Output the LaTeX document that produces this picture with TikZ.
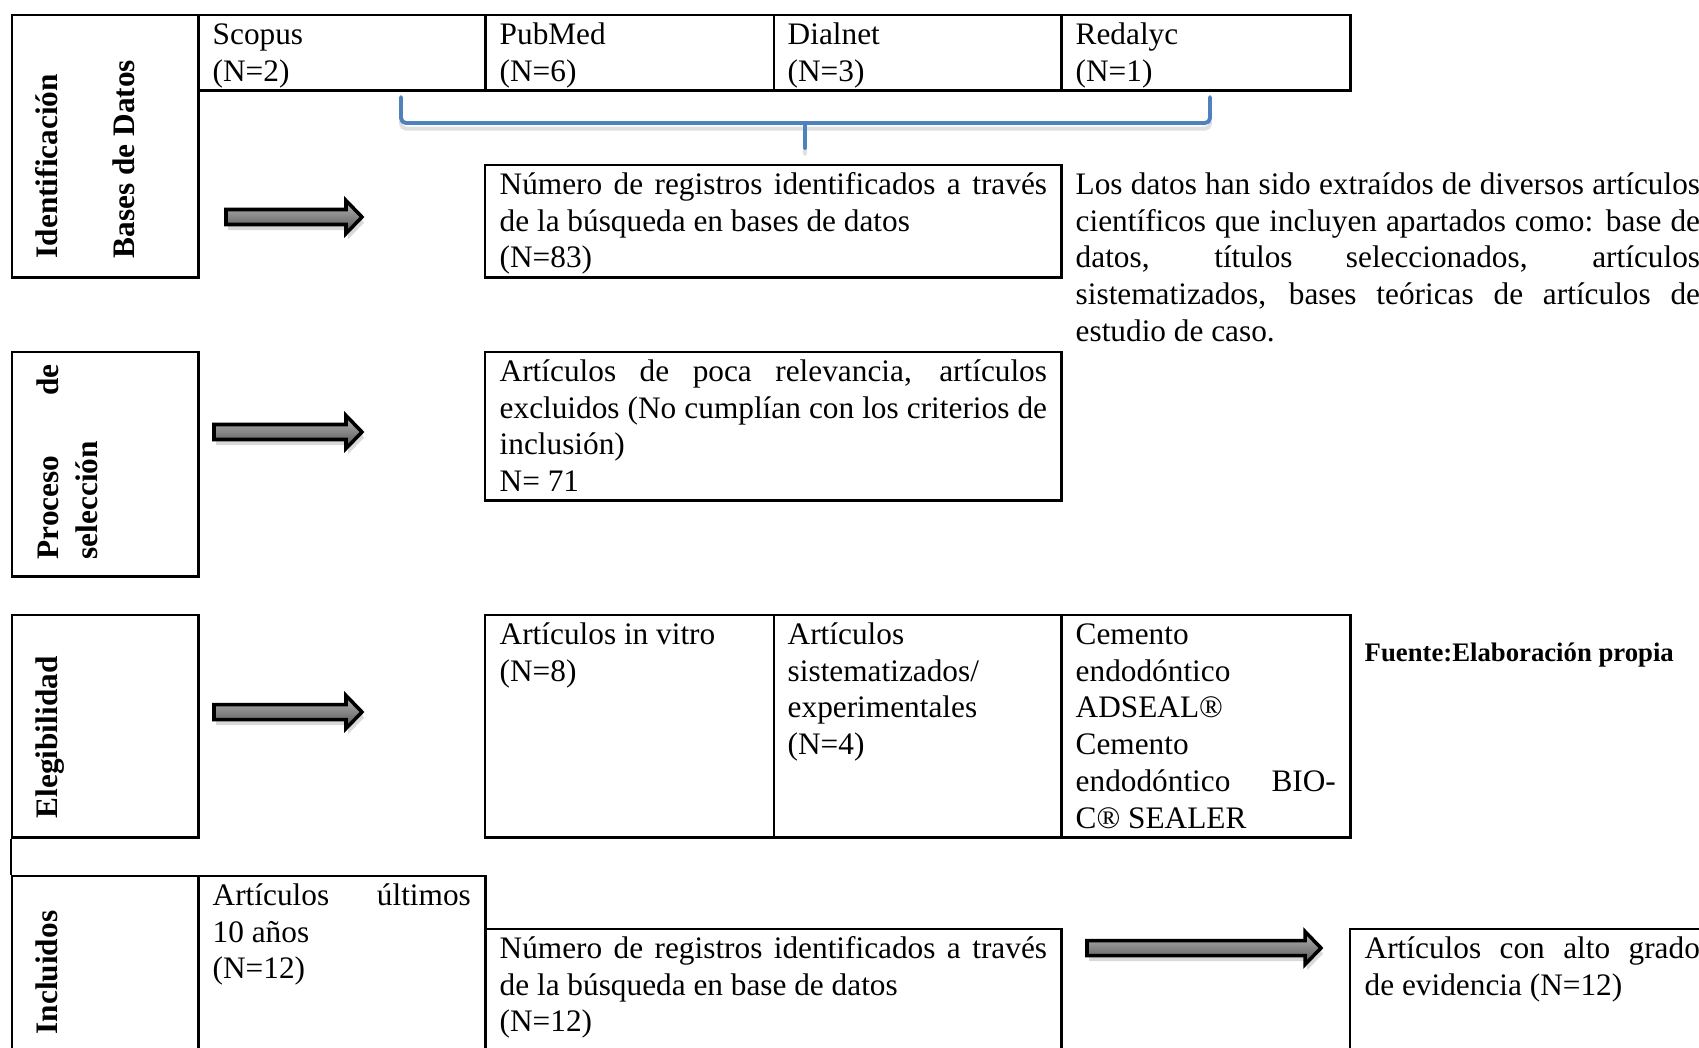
\documentclass[tikz,border=0pt]{standalone}
\usepackage{fontspec}
\setmainfont{Liberation Serif}
\usetikzlibrary{shadows}
\definecolor{bracecol}{RGB}{79,129,189}
% block arrow: #1 tail x, #2 tip x, #3 centre y, #4 name
\newcommand\BlockArrow[4]{%
  \coordinate (#4-tail) at (#1,#3);
  \coordinate (#4-tip) at (#2,#3);
  \path[blockarrow] (#1,{#3-7.5}) -- ({#2-16},{#3-7.5}) -- ({#2-16},{#3-16.5}) -- (#4-tip)
    -- ({#2-16},{#3+16.5}) -- ({#2-16},{#3+7.5}) -- (#1,{#3+7.5}) -- cycle;}
\begin{document}
\begin{tikzpicture}[x=0.01cm,y=-0.01cm,
  cell/.style={draw, line width=0.7pt, inner sep=0pt, anchor=north west},
  txt/.style={anchor=north west, inner sep=0pt, font=\fontsize{8.9}{10.45}\selectfont, align=justify, execute at begin node=\strut},
  vlab/.style={rotate=90, anchor=north west, inner sep=0pt, font=\fontsize{8.9}{10.45}\selectfont\bfseries, execute at begin node=\strut},
  blockarrow/.style={draw=black, line width=1pt, line join=miter, top color=black!28, bottom color=black!68,
    drop shadow={opacity=0.3, shadow xshift=0.6pt, shadow yshift=-1.6pt}},
  brace/.style={draw=bracecol, line width=1.1pt, rounded corners=0.05cm, line cap=round}
]
\useasboundingbox (0,0) rectangle (1699,1048);
\clip (0,0) rectangle (1699,1048);

% ---- Row 1: identification ----
\node[cell, minimum width=1.86cm, minimum height=2.62cm] (ident) at (11,14) {};
\node[cell, minimum width=2.87cm, minimum height=0.75cm] (scopus) at (197,14) {};
\node[cell, minimum width=2.885cm, minimum height=0.75cm] (pubmed) at (484,14) {};
\node[cell, minimum width=2.875cm, minimum height=0.75cm] (dialnet) at (772.5,14) {};
\node[cell, minimum width=2.89cm, minimum height=0.75cm] (redalyc) at (1060,14) {};
\node[cell, minimum width=5.76cm, minimum height=1.12cm] (numero) at (484,164) {};

\node[vlab] (identL) at (31.3,259) {Identificación};
\node[vlab] (basesL) at (108,259) {Bases de Datos};

\node[txt, text width=2.6cm] (scopusT) at (212,18) {Scopus\\(N=2)};
\node[txt, text width=2.6cm] (pubmedT) at (499,18) {PubMed\\(N=6)};
\node[txt, text width=2.6cm] (dialnetT) at (787,18) {Dialnet\\(N=3)};
\node[txt, text width=2.6cm] (redalycT) at (1075,18) {Redalyc\\(N=1)};
\node[txt, text width=5.47cm] (numeroT) at (499,168) {Número de registros identificados a través\linebreak de la búsqueda en bases de datos\\(N=83)};
\node[txt, text width=6.24cm] (info) at (1075,168) {Los datos han sido extraídos de diversos artículos\linebreak científicos que incluyen apartados como: base de\linebreak datos, títulos seleccionados, artículos\linebreak sistematizados, bases teóricas de artículos de\linebreak estudio de caso.};

\BlockArrow{226}{362}{217}{a1}

% brace
\coordinate (brLt) at (401,97);
\coordinate (brLb) at (401,123);
\coordinate (brRb) at (1210,123);
\coordinate (brRt) at (1210,97);
\coordinate (brTop) at (805,123);
\coordinate (brTip) at (805,148);
\begin{scope}[transform canvas={yshift=-1.6pt}]
\draw[brace, draw=black, opacity=0.12] (brLt) -- (brLb) -- (brRb) -- (brRt);
\draw[brace, draw=black, opacity=0.12] (brTop) -- (brTip);
\end{scope}
\draw[brace] (brLt) -- (brLb) -- (brRb) -- (brRt);
\draw[brace] (brTop) -- (brTip);

% ---- Row 2: selection ----
\node[cell, minimum width=1.86cm, minimum height=2.24cm] (proc) at (11,351) {};
\node[cell, minimum width=5.76cm, minimum height=1.48cm] (poca) at (484,351) {};
\node[vlab, font=\fontsize{8.9}{11.1}\selectfont\bfseries, text width=1.95cm, align=left] (procL) at (30.7,560) {Proceso\hfill de\\selección};
\node[txt, text width=5.47cm] (pocaT) at (499,355) {Artículos de poca relevancia, artículos\linebreak excluidos (No cumplían con los criterios de\linebreak inclusión)\\N= 71};
\BlockArrow{214}{362}{432}{a2}

% ---- Row 3: eligibility ----
\node[cell, minimum width=1.86cm, minimum height=2.22cm] (eleg) at (11,614) {};
\node[cell, minimum width=2.885cm, minimum height=2.22cm] (vitro) at (484,614) {};
\node[cell, minimum width=2.875cm, minimum height=2.22cm] (sist) at (772.5,614) {};
\node[cell, minimum width=2.89cm, minimum height=2.22cm] (cem) at (1060,614) {};
\node[vlab] (elegL) at (31.3,819) {Elegibilidad};
\node[txt, text width=2.6cm] (vitroT) at (499,618) {Artículos in vitro\\(N=8)};
\node[txt, text width=2.6cm] (sistT) at (787,618) {Artículos\\sistematizados/\\experimentales\\(N=4)};
\node[txt, text width=2.6cm] (cemT) at (1075,618) {Cemento\\endodóntico\\ADSEAL®\\Cemento\\endodóntico\hfill BIO-\\C® SEALER};
\node[anchor=base west, inner sep=0pt, font=\fontsize{7.6}{9}\selectfont\bfseries] (fuente) at (1364,661) {Fuente:Elaboración propia};
\BlockArrow{214}{362}{712}{a3}

% ---- Row 4: included ----
\node[cell, minimum width=1.86cm, minimum height=2.0cm] (incl) at (11,875) {};
\node[cell, minimum width=2.87cm, minimum height=2.0cm] (ult) at (197,875) {};
\node[cell, minimum width=5.76cm, minimum height=1.5cm] (num2) at (484,928) {};
\node[cell, minimum width=4.0cm, minimum height=1.5cm] (alto) at (1349,928) {};
\draw[line width=0.7pt] (eleg.south west) -- (incl.north west);
\node[vlab] (inclL) at (31.3,1035) {Incluidos};
\node[txt, text width=2.58cm] (ultT) at (212,879) {Artículos últimos\linebreak 10 años\\(N=12)};
\node[txt, text width=5.47cm] (num2T) at (499,932) {Número de registros identificados a través\linebreak de la búsqueda en base de datos\\(N=12)};
\node[txt, text width=3.35cm] (altoT) at (1364,932) {Artículos con alto grado\linebreak de evidencia (N=12)};
\BlockArrow{1087}{1321}{948}{a4}
\end{tikzpicture}
\end{document}
